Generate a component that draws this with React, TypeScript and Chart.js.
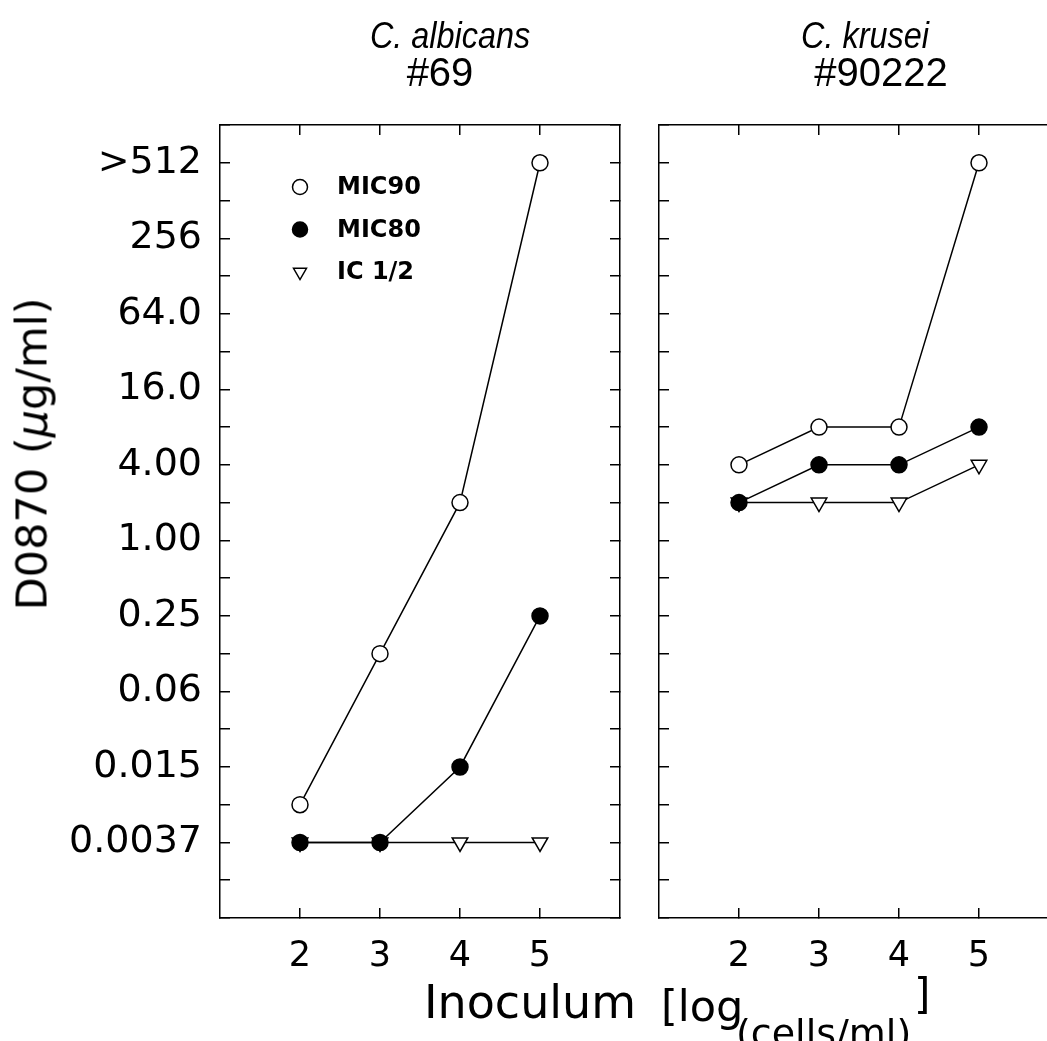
import React, { useEffect, useRef } from 'react';
import { Chart, registerables } from 'chart.js';

Chart.register(...registerables);

// ---- data (concentrations in µg/ml, axis is log2; ">512" plotted at 1024) ----
const inoculum = [2, 3, 4, 5];
const xTickValues = [2, 3, 4, 5];
const yTickExponents = [10, 8, 6, 4, 2, 0, -2, -4, -6, -8];
const yTickLabels = ['>512', '256', '64.0', '16.0', '4.00', '1.00', '0.25', '0.06', '0.015', '0.0037'];
const seriesNames = ['MIC90', 'MIC80', 'IC 1/2'];

const albicansMIC90 = [0.0078125, 0.125, 2, 1024];
const albicansMIC80 = [0.00390625, 0.00390625, 0.015625, 0.25];
const albicansIC50 = [0.00390625, 0.00390625, 0.00390625, 0.00390625];

const kruseiMIC90 = [4, 8, 8, 1024];
const kruseiMIC80 = [2, 4, 4, 8];
const kruseiIC50 = [2, 2, 2, 4];

const Y_MIN = -10;
const Y_MAX = 11;
const X_MIN = 1;
const X_MAX = 6;

const FONT = '"DejaVu Sans", sans-serif';
const TITLE_FONT = '"Liberation Sans", Arial, sans-serif';

const insideLegend = {
  id: 'insideLegend',
  afterDraw(chart: any) {
    const ctx = chart.ctx;
    const area = chart.chartArea;
    chart.data.datasets.forEach((ds: any, i: number) => {
      const x = area.left + 80;
      const y = area.top + 62 + i * 42.5;
      const r = 7.5;
      ctx.save();
      ctx.lineWidth = 1.5;
      ctx.strokeStyle = '#000';
      ctx.fillStyle = ds.pointBackgroundColor;
      ctx.beginPath();
      if (ds.pointStyle === 'triangle') {
        const h = r * 1.5;
        const w = r * Math.sqrt(3);
        ctx.moveTo(x - w / 2, y - h / 3);
        ctx.lineTo(x + w / 2, y - h / 3);
        ctx.lineTo(x, y + (2 * h) / 3);
        ctx.closePath();
      } else {
        ctx.arc(x, y, r, 0, Math.PI * 2);
      }
      ctx.fill();
      ctx.stroke();
      ctx.fillStyle = '#000';
      ctx.font = `bold 24px ${FONT}`;
      ctx.textBaseline = 'middle';
      ctx.textAlign = 'left';
      ctx.fillText(ds.label, area.left + 117, y + 1);
      ctx.restore();
    });
  },
};

function makeDatasets(mic90: number[], mic80: number[], ic50: number[]) {
  const base = {
    borderColor: '#000',
    borderWidth: 1.5,
    pointBorderColor: '#000',
    pointBorderWidth: 1.5,
    tension: 0,
    xAxisID: 'x',
    yAxisID: 'y',
  };
  const toPts = (vals: number[]) => inoculum.map((x, i) => ({ x, y: Math.log2(vals[i]) }));
  return [
    { ...base, label: seriesNames[0], data: toPts(mic90), pointStyle: 'circle', pointRadius: 8, pointBackgroundColor: '#fff' },
    { ...base, label: seriesNames[1], data: toPts(mic80), pointStyle: 'circle', pointRadius: 8, pointBackgroundColor: '#000' },
    { ...base, label: seriesNames[2], data: toPts(ic50), pointStyle: 'triangle', pointRotation: 180, pointRadius: 9, pointBackgroundColor: '#fff' },
  ];
}

function makeConfig(datasets: any[], showYLabels: boolean, yWidth: number, y2Width: number, withLegend: boolean): any {
  const grid = { drawOnChartArea: false, drawTicks: true, tickLength: -10, color: '#000', lineWidth: 1.5 };
  const border = { display: true, color: '#000', width: 1.5 };
  const xTicks = (s: any) => {
    s.ticks = xTickValues.map((v) => ({ value: v }));
  };
  const yTicks = (s: any) => {
    const t = [];
    for (let v = Y_MIN; v <= Y_MAX; v++) t.push({ value: v });
    s.ticks = t;
  };
  return {
    type: 'line',
    data: { datasets },
    plugins: withLegend ? [insideLegend] : [],
    options: {
      responsive: false,
      animation: false,
      events: [],
      layout: { padding: 0 },
      plugins: { legend: { display: false }, tooltip: { enabled: false }, title: { display: false } },
      scales: {
        x: {
          type: 'linear', position: 'bottom', min: X_MIN, max: X_MAX,
          afterBuildTicks: xTicks,
          afterFit: (s: any) => { s.height = 123; },
          ticks: { autoSkip: false, maxRotation: 0, padding: 28, color: '#000', font: { family: FONT, size: 35 }, callback: (v: any) => String(v) },
          grid, border,
        },
        x2: {
          type: 'linear', position: 'top', min: X_MIN, max: X_MAX,
          afterBuildTicks: xTicks,
          afterFit: (s: any) => { s.height = 125; },
          ticks: { display: false },
          grid, border,
        },
        y: {
          type: 'linear', position: 'left', min: Y_MIN, max: Y_MAX,
          afterBuildTicks: yTicks,
          afterFit: (s: any) => { s.width = yWidth; },
          ticks: {
            display: showYLabels, autoSkip: false, padding: 28, color: '#000', font: { family: FONT, size: 38 },
            callback: (v: any) => {
              const i = yTickExponents.indexOf(v);
              return i >= 0 ? yTickLabels[i] : '';
            },
          },
          grid, border,
        },
        y2: {
          type: 'linear', position: 'right', min: Y_MIN, max: Y_MAX,
          afterBuildTicks: yTicks,
          afterFit: (s: any) => { s.width = y2Width; },
          ticks: { display: false },
          grid, border,
        },
      },
    },
  };
}

function Txt(props: { x: number; baseline: number; size: number; family: string; children: any }) {
  const { x, baseline, size, family, children } = props;
  return (
    <div
      style={{
        position: 'absolute',
        left: x,
        top: baseline - 0.846 * size,
        fontFamily: family,
        fontSize: size,
        lineHeight: 1,
        whiteSpace: 'nowrap',
        color: '#000',
      }}
    >
      {children}
    </div>
  );
}

function CenterTxt(props: { cx: number; baseline: number; size: number; italic?: boolean; squeeze: number; children: any }) {
  const { cx, baseline, size, italic, squeeze, children } = props;
  return (
    <div style={{ position: 'absolute', left: cx - 200, width: 400, top: baseline - 0.846 * size, textAlign: 'center' }}>
      <span
        style={{
          display: 'inline-block',
          fontFamily: TITLE_FONT,
          fontSize: size,
          fontStyle: italic ? 'italic' : 'normal',
          lineHeight: 1,
          whiteSpace: 'nowrap',
          color: '#000',
          transform: `scaleX(${squeeze})`,
          transformOrigin: 'center center',
        }}
      >
        {children}
      </span>
    </div>
  );
}

export default function App() {
  const leftRef = useRef<HTMLCanvasElement | null>(null);
  const rightRef = useRef<HTMLCanvasElement | null>(null);

  useEffect(() => {
    const left = new Chart(leftRef.current as HTMLCanvasElement, makeConfig(makeDatasets(albicansMIC90, albicansMIC80, albicansIC50), true, 220, 20, true));
    const right = new Chart(rightRef.current as HTMLCanvasElement, makeConfig(makeDatasets(kruseiMIC90, kruseiMIC80, kruseiIC50), false, 19, 21, false));
    return () => {
      left.destroy();
      right.destroy();
    };
  }, []);

  return (
    <div style={{ position: 'absolute', left: 0, top: 0, width: 1047, height: 1041, overflow: 'hidden', background: '#fff' }}>
      <canvas ref={leftRef} width={640} height={1041} style={{ position: 'absolute', left: 0, top: 0 }} />
      <canvas ref={rightRef} width={440} height={1041} style={{ position: 'absolute', left: 640, top: 0 }} />

      <CenterTxt cx={450} baseline={48} size={36} italic squeeze={0.9}>C. albicans</CenterTxt>
      <CenterTxt cx={440} baseline={86} size={40} squeeze={1}>#69</CenterTxt>
      <CenterTxt cx={865} baseline={48} size={36} italic squeeze={0.9}>C. krusei</CenterTxt>
      <CenterTxt cx={881} baseline={86} size={40} squeeze={1}>#90222</CenterTxt>

      <div
        style={{
          position: 'absolute',
          left: 32,
          top: 454,
          transform: 'translate(-50%, -50%) rotate(-90deg)',
          fontFamily: FONT,
          fontSize: 43,
          lineHeight: 1,
          whiteSpace: 'nowrap',
          color: '#000',
        }}
      >
        D0870 (<span style={{ fontStyle: 'italic' }}>μ</span>g/ml)
      </div>

      <Txt x={424} baseline={1018} size={46} family={FONT}>Inoculum</Txt>
      <Txt x={661} baseline={1021} size={43} family={FONT}>[log</Txt>
      <Txt x={736} baseline={1046} size={38} family={FONT}>(cells/ml)</Txt>
      <Txt x={914} baseline={1010} size={42} family={FONT}>]</Txt>
    </div>
  );
}
